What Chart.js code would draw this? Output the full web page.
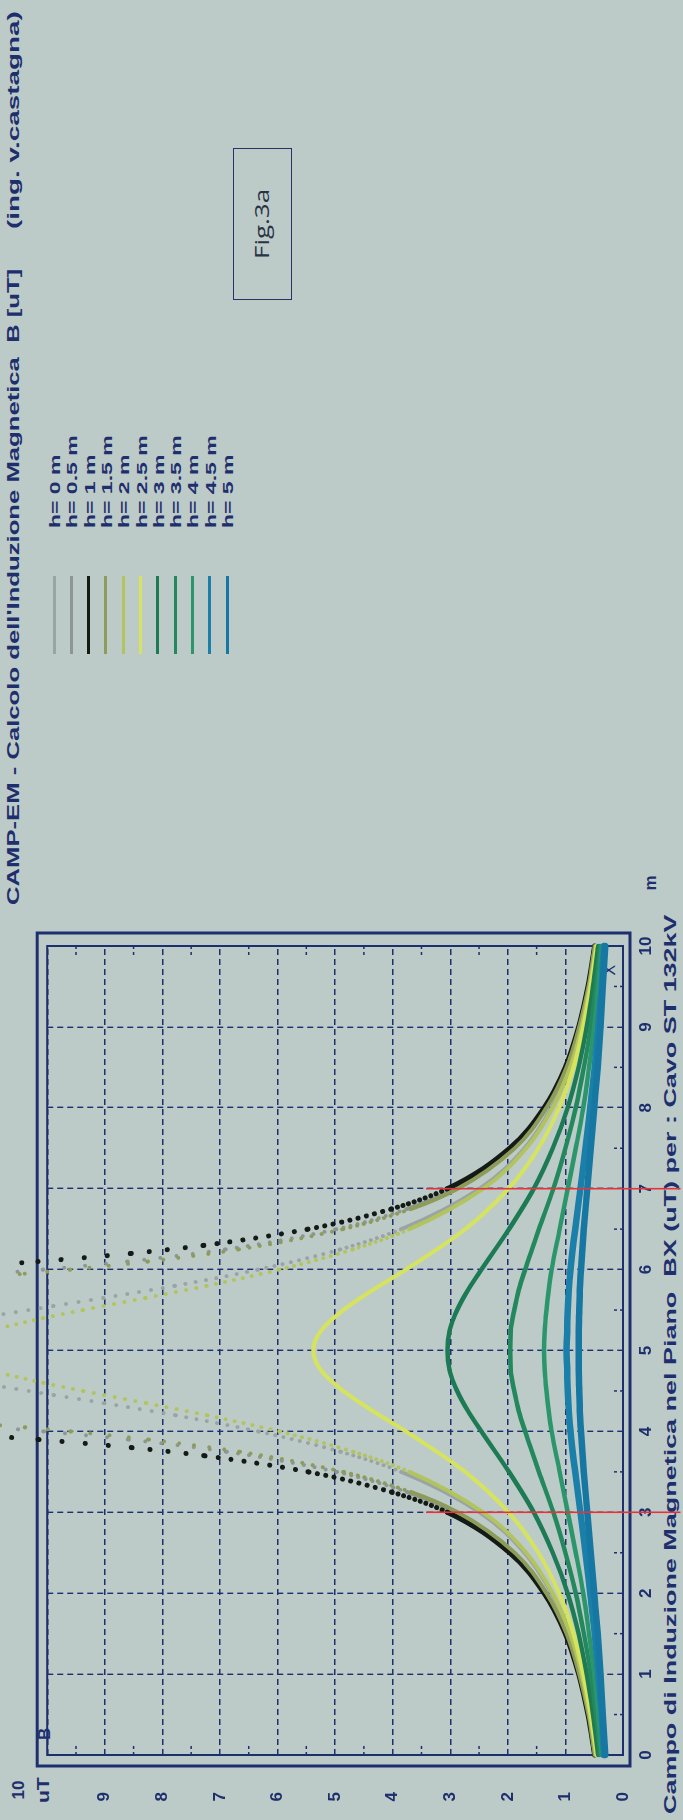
<!DOCTYPE html>
<html><head><meta charset="utf-8">
<script src="https://cdn.jsdelivr.net/npm/chart.js@4.4.1/dist/chart.umd.min.js"></script>
<style>
html,body{margin:0;padding:0;background:#bdcbc8;width:683px;height:1820px;overflow:hidden;}
#rot{position:absolute;left:0;top:0;width:1820px;height:683px;background:#bdcbc8;transform-origin:0 0;transform:translate(0px,1820px) rotate(-90deg);}
#c{position:absolute;left:0;top:0;z-index:2;}
.t{position:absolute;white-space:pre;color:#1e2f6e;font-family:"Liberation Sans",Arial,sans-serif;font-weight:bold;z-index:1;line-height:1;transform-origin:0 50%;}
.lg{position:absolute;z-index:1;height:3px;}
#fig{position:absolute;left:1520px;top:233px;width:150px;height:57px;border:1.5px solid #263466;z-index:1;}
</style></head><body>
<div id="rot">
<canvas id="c" width="1820" height="683"></canvas>
<div id="fig"></div>
<div class="t" data-x="915" data-y="13" data-w="637" style="font-size:17px">CAMP-EM - Calcolo dell'Induzione Magnetica  B [uT]</div>
<div class="t" data-x="1591" data-y="13" data-w="218" style="font-size:17px">(ing. v.castagna)</div>
<div class="t" data-x="6" data-y="670" data-w="900" style="font-size:17px">Campo di Induzione Magnetica nel Piano  BX (uT) per : Cavo ST 132kV</div>
<div class="t" data-x="937" data-y="650" data-align="c" style="font-size:17px">m</div>
<div class="t" data-x="86" data-y="44" data-align="c" style="font-size:17px">B</div>
<div class="t" data-x="30" data-y="18" data-align="c" style="font-size:17px">10</div>
<div class="t" data-x="30" data-y="43" data-align="c" data-w="26" style="font-size:17px">uT</div>
<div class="t" data-x="850" data-y="610" data-align="c" style="font-size:16px;font-weight:normal">X</div>
<div class="t" data-x="1596" data-y="262" data-align="c" data-w="70" style="font-size:20px;font-family:'Open Sans',sans-serif;font-weight:normal;color:#2a3346">Fig.3a</div>
</div>
<script>
// ---- data ----
const seriesLabels = ['h= 0 m','h= 0.5 m','h= 1 m','h= 1.5 m','h= 2 m','h= 2.5 m','h= 3 m','h= 3.5 m','h= 4 m','h= 4.5 m','h= 5 m'];
const xTicks = [0,1,2,3,4,5,6,7,8,9,10];
const yTicks = [0,1,2,3,4,5,6,7,8,9,10];

const x_h0   = [0,0.5,1,1.5,2,2.5,3,3.5,3.75,4,4.2,4.35,4.45,4.55,5,5.45,5.55,5.65,5.8,6,6.25,6.5,7,7.5,8,8.5,9,9.5,10];
const B_h0   = [0.47,0.58,0.73,0.93,1.24,1.71,2.49,3.85,4.91,6.34,7.78,9.02,9.89,10.76,null,10.76,9.89,9.02,7.78,6.34,4.91,3.85,2.49,1.71,1.24,0.93,0.73,0.58,0.47];
const x_h05  = [0,0.5,1,1.5,2,2.5,3,3.25,3.5,3.75,3.9,4.0,4.05,5,5.95,6.0,6.1,6.25,6.5,6.75,7,7.5,8,8.5,9,9.5,10];
const B_h05  = [0.49,0.60,0.76,0.99,1.33,1.90,2.91,3.75,4.98,6.90,8.60,10.07,10.95,null,10.95,10.07,8.60,6.90,4.98,3.75,2.91,1.90,1.33,0.99,0.76,0.60,0.49];
const x_h1   = [0,0.5,1,1.5,2,2.5,3,3.25,3.5,3.7,3.8,3.9,3.94,5,6.06,6.1,6.2,6.3,6.5,6.75,7,7.5,8,8.5,9,9.5,10];
const B_h1   = [0.49,0.61,0.77,1.00,1.37,1.97,3.05,4.02,5.47,7.28,8.54,10.16,10.9,null,10.9,10.16,8.54,7.28,5.47,4.02,3.05,1.97,1.37,1.00,0.77,0.61,0.49];
const x_h15  = [0,0.5,1,1.5,2,2.5,3,3.25,3.5,3.75,3.9,4.0,4.05,4.08,5,5.92,5.95,6.0,6.1,6.25,6.5,6.75,7,7.5,8,8.5,9,9.5,10];
const B_h15  = [0.49,0.60,0.76,0.98,1.33,1.88,2.87,3.68,4.86,6.67,8.25,9.60,10.39,10.91,null,10.91,10.39,9.60,8.25,6.67,4.86,3.68,2.87,1.88,1.33,0.98,0.76,0.60,0.49];
const x_h2   = [0,0.5,1,1.5,2,2.5,3,3.5,3.75,4,4.2,4.35,4.5,4.6,4.7,5,5.3,5.4,5.5,5.65,5.8,6,6.25,6.5,7,7.5,8,8.5,9,9.5,10];
const B_h2   = [0.47,0.58,0.72,0.92,1.22,1.68,2.43,3.71,4.69,5.97,7.23,8.29,9.38,10.07,10.69,null,10.69,10.07,9.38,8.29,7.23,5.97,4.69,3.71,2.43,1.68,1.22,0.92,0.72,0.58,0.47];

const x_solid = [0,0.5,1,1.5,2,2.5,3,3.5,4,4.25,4.5,4.75,5,5.25,5.5,5.75,6,6.5,7,7.5,8,8.5,9,9.5,10];
const B_h25  = [0.46,0.56,0.69,0.86,1.11,1.47,1.99,2.74,3.77,4.34,4.86,5.24,5.38,5.24,4.86,4.34,3.77,2.74,1.99,1.47,1.11,0.86,0.69,0.56,0.46];
const B_h3   = [0.43,0.52,0.63,0.77,0.96,1.22,1.55,1.98,2.46,2.69,2.88,3.01,3.05,3.01,2.88,2.69,2.46,1.98,1.55,1.22,0.96,0.77,0.63,0.52,0.43];
const B_h35  = [0.40,0.47,0.56,0.68,0.82,1.00,1.21,1.46,1.70,1.81,1.89,1.95,1.96,1.95,1.89,1.81,1.70,1.46,1.21,1.00,0.82,0.68,0.56,0.47,0.40];
const B_h4   = [0.37,0.43,0.50,0.59,0.69,0.82,0.96,1.10,1.24,1.29,1.33,1.36,1.37,1.36,1.33,1.29,1.24,1.10,0.96,0.82,0.69,0.59,0.50,0.43,0.37];
const B_h45  = [0.33,0.37,0.43,0.49,0.57,0.65,0.74,0.83,0.91,0.94,0.96,0.97,0.98,0.97,0.96,0.94,0.91,0.83,0.74,0.65,0.57,0.49,0.43,0.37,0.33];
const B_h5   = [0.31,0.35,0.39,0.44,0.50,0.56,0.62,0.68,0.73,0.75,0.76,0.77,0.77,0.77,0.76,0.75,0.73,0.68,0.62,0.56,0.50,0.44,0.39,0.35,0.31];

// red marker lines (x position, top value, bottom value beyond axis)
const redX = [3, 7];
const redY = [3.42, -1.0];

// ---- styles ----
const NAVY = '#1e2f6e';
const seriesColors = ['#9ba4a5','#8d9697','#141a16','#8d9c58','#b2c45e','#d5e45c','#1c7a54','#23885d','#2b966c','#1a7fa9','#1677a3'];
const seriesWidth  = [4,4,5,4,4,4,4.5,4.5,4.5,6.5,6.5];
const dottedFlag   = [true,true,true,true,true,false,false,false,false,false,false];

const xs = [x_h0,x_h05,x_h1,x_h15,x_h2,x_solid,x_solid,x_solid,x_solid,x_solid,x_solid];
const ys = [B_h0,B_h05,B_h1,B_h15,B_h2,B_h25,B_h3,B_h35,B_h4,B_h45,B_h5];

function pts(xa, ya){ return xa.map((x,i)=>({x:x, y:ya[i]})); }

const dotSeg = ctx => {
  const dx = Math.abs(ctx.p1.x - ctx.p0.x) || 0.001;
  const s = Math.abs(ctx.p1.y - ctx.p0.y) / dx;
  const gap = 2 * Math.sqrt(1 + s*s);
  return gap > 5.5 ? [0.01, gap] : undefined;
};

const datasets = ys.map((ya,i)=>({
  label: seriesLabels[i],
  data: pts(xs[i], ya),
  borderColor: seriesColors[i],
  backgroundColor: seriesColors[i],
  borderWidth: seriesWidth[i],
  borderCapStyle: 'round',
  borderJoinStyle: 'round',
  pointRadius: 0,
  cubicInterpolationMode: 'monotone',
  spanGaps: false,
  clip: false,
  order: 30 - i,
  segment: dottedFlag[i] ? { borderDash: dotSeg } : {}
}));
redX.forEach((rx)=>{
  datasets.push({
    label: 'limit', data: redY.map(v=>({x: rx, y: v})),
    borderColor: '#e4343a', borderWidth: 1.6, pointRadius: 0, clip: false, order: 0
  });
});

// legend (html) built from labels/colors
const rot = document.getElementById('rot');
seriesLabels.forEach((lab,i)=>{
  const v = 54 + i*17.3;
  const ln = document.createElement('div');
  ln.className = 'lg';
  ln.style.left = '1166px'; ln.style.width = '78px';
  ln.style.top = (v-1.5)+'px'; ln.style.background = seriesColors[i];
  rot.appendChild(ln);
  const t = document.createElement('div');
  t.className = 't'; t.textContent = lab;
  t.dataset.x = 1292; t.dataset.y = v; t.dataset.lg = '1';
  t.style.fontSize = '15px';
  rot.appendChild(t);
});

// fit texts
let lgScale = 1;
(function(){
  const probe = document.createElement('div');
  probe.className='t'; probe.style.fontSize='15px'; probe.textContent='h= 0.5 m';
  rot.appendChild(probe); lgScale = 92 / probe.offsetWidth; probe.remove();
})();
document.querySelectorAll('.t').forEach(el=>{
  const nat = el.offsetWidth;
  let f = el.dataset.w ? (+el.dataset.w / nat) : 1;
  if (el.dataset.lg) f = lgScale;
  let left = +el.dataset.x;
  if (el.dataset.align === 'c') left -= nat*f/2;
  el.style.left = left + 'px';
  el.style.top = el.dataset.y + 'px';
  el.style.transform = 'translateY(-50%) scaleX(' + f + ')';
});

const framePlugin = {
  id: 'frame',
  beforeDatasetsDraw(chart){
    const {ctx, chartArea:a, scales:{x, y}} = chart;
    ctx.save();
    ctx.strokeStyle = NAVY;
    ctx.lineWidth = 3;
    ctx.strokeRect(a.left-11, a.top-10, (a.right+13)-(a.left-11), (a.bottom+7)-(a.top-10));
    ctx.lineWidth = 2;
    ctx.strokeRect(a.left, a.top, a.right-a.left, a.bottom-a.top);
    // minor tick marks at half units
    ctx.lineWidth = 1.5;
    ctx.setLineDash([3,3]);
    for (let k=0; k<10; k++){
      const px = x.getPixelForValue(k+0.5);
      ctx.beginPath(); ctx.moveTo(px, a.bottom); ctx.lineTo(px, a.bottom-10); ctx.stroke();
      const py = y.getPixelForValue(k+0.5);
      ctx.beginPath(); ctx.moveTo(a.left, py); ctx.lineTo(a.left+10, py); ctx.stroke();
      ctx.beginPath(); ctx.moveTo(a.right, py); ctx.lineTo(a.right-10, py); ctx.stroke();
    }
    ctx.restore();
  }
};

const tickFont = {family:'"Liberation Sans", Arial, sans-serif', weight:'bold', size:17};
new Chart(document.getElementById('c'), {
  type: 'line',
  data: { datasets },
  options: {
    responsive: false, animation: false, devicePixelRatio: 1,
    layout: { padding: { left: 0, top: 22, right: 946, bottom: 0 } },
    plugins: { legend: {display:false}, tooltip: {enabled:false}, title: {display:false} },
    scales: {
      x: {
        type: 'linear', min: 0, max: 10,
        afterBuildTicks: s => { s.ticks = xTicks.map(v=>({value:v})); },
        ticks: { color: NAVY, font: tickFont, padding: 13, maxRotation: 0, autoSkip: false },
        grid: { color: NAVY, lineWidth: 1.4, drawTicks: false },
        border: { display: false, dash: [6,4] },
        afterFit: s => { s.height = 60; }
      },
      y: {
        type: 'linear', min: 0, max: 10,
        afterBuildTicks: s => { s.ticks = yTicks.map(v=>({value:v})); },
        ticks: { color: NAVY, font: tickFont, padding: 37, callback: v => v === 10 ? '' : String(v) },
        grid: { color: NAVY, lineWidth: 1.4, drawTicks: false },
        border: { display: false, dash: [6,4] },
        afterFit: s => { s.width = 65; }
      }
    }
  },
  plugins: [framePlugin]
});
</script>
</body></html>
